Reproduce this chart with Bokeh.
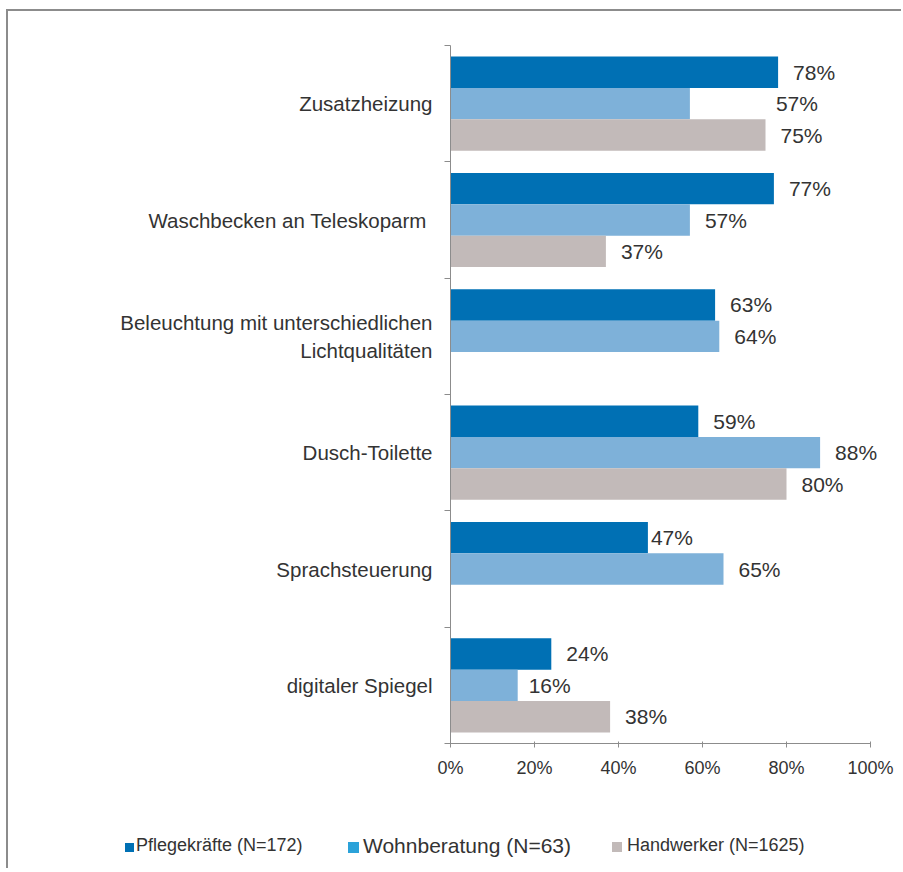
from bokeh.plotting import figure
from bokeh.layouts import column
from bokeh.models import (ColumnDataSource, Range1d, FixedTicker, LabelSet,
                          PrintfTickFormatter, Div)
from bokeh.core.properties import value
from bokeh.embed import file_html
from bokeh.resources import INLINE

# ---------------- data ----------------
categories = [
    "Zusatzheizung",
    "Waschbecken an Teleskoparm ",
    "Beleuchtung mit unterschiedlichen\nLichtqualitäten",
    "Dusch-Toilette",
    "Sprachsteuerung",
    "digitaler Spiegel",
]
series_names = ["Pflegekräfte (N=172)", "Wohnberatung (N=63)", "Handwerker (N=1625)"]
pflegekraefte = [78, 77, 63, 59, 47, 24]
wohnberatung = [57, 57, 64, 88, 65, 16]
handwerker = [75, 37, None, 80, None, 38]
x_ticks = [0, 20, 40, 60, 80, 100]

# ---------------- style / layout ----------------
bar_colors = ["#0070b4", "#7eb1d9", "#c2bab9"]
legend_colors = ["#0070b4", "#2ba2d9", "#c2bab9"]
legend_font_px = [18, 21, 18]
legend_square_px = [9, 11, 10]
legend_square_left = [117, 340, 604]
legend_text_left = [128, 355, 619]
legend_text_cy = 43
legend_square_cy = 45
FONT = "Liberation Sans"
TXT = "#333333"
AXC = "#8c8c8c"
BAR_H = 0.27
default_dx = 15
label_nudge = {(0, 1): 86, (4, 0): 3, (5, 1): 11}

W = 893
MB_LEFT, MB_RIGHT = 442, 5
PX_PER_UNIT = 4.2
x_end = (W - MB_LEFT - MB_RIGHT) / PX_PER_UNIT

p = figure(width=W, height=791, x_range=Range1d(0, x_end), y_range=Range1d(len(categories), 0),
           output_backend="svg", toolbar_location=None,
           min_border_left=MB_LEFT, min_border_right=MB_RIGHT, min_border_top=34,
           min_border_bottom=59)
p.outline_line_color = None
p.xgrid.grid_line_color = None
p.ygrid.grid_line_color = None

all_series = [pflegekraefte, wohnberatung, handwerker]
for k, vals in enumerate(all_series):
    ys, vs, labels, dxs = [], [], [], []
    for i, v in enumerate(vals):
        if v is None:
            continue
        ys.append(i + 0.5 + (k - 1) * BAR_H)
        vs.append(v)
        labels.append(f"{v}%")
        dxs.append(label_nudge.get((i, k), default_dx))
    src = ColumnDataSource(dict(y=ys, v=vs, label=labels, dx=dxs))
    p.hbar(y="y", left=0, right="v", height=BAR_H, source=src,
           fill_color=bar_colors[k], line_color=None)
    p.add_layout(LabelSet(x="v", y="y", text="label", x_offset="dx", source=src,
                          text_baseline="middle", text_align="left",
                          text_font=value(FONT), text_font_size="21px", text_color=TXT))

# y axis: labels at band centres, ticks at band boundaries
yax = p.yaxis[0]
yax.ticker = FixedTicker(ticks=[i + 0.5 for i in range(len(categories))],
                         minor_ticks=list(range(len(categories) + 1)))
yax.major_label_overrides = {i + 0.5: c for i, c in enumerate(categories)}
yax.major_tick_line_color = None
yax.major_tick_out = 0
yax.major_tick_in = 0
yax.minor_tick_line_color = AXC
yax.minor_tick_out = 6
yax.minor_tick_in = 0
yax.axis_line_color = AXC
yax.major_label_standoff = 12
yax.major_label_text_font = FONT
yax.major_label_text_font_size = "20.5px"
yax.major_label_text_color = TXT

xax = p.xaxis[0]
xax.bounds = (0, 100)
xax.ticker = FixedTicker(ticks=x_ticks)
xax.formatter = PrintfTickFormatter(format="%d%%")
xax.minor_tick_line_color = None
xax.major_tick_line_color = AXC
xax.major_tick_out = 4
xax.major_tick_in = 2
xax.axis_line_color = AXC
xax.major_label_standoff = 10
xax.major_label_text_font = FONT
xax.major_label_text_font_size = "18px"
xax.major_label_text_color = TXT

# ---------------- legend strip (HTML) ----------------
parts = []
for k, name in enumerate(series_names):
    s = legend_square_px[k]
    lh = round(legend_font_px[k] * 1.2)
    parts.append(
        f'<span style="position:absolute;left:{legend_square_left[k]}px;'
        f'top:{legend_square_cy - s / 2}px;width:{s}px;height:{s}px;'
        f'background:{legend_colors[k]};"></span>'
    )
    parts.append(
        f'<span style="position:absolute;left:{legend_text_left[k]}px;'
        f'top:{legend_text_cy - lh / 2}px;line-height:{lh}px;white-space:nowrap;'
        f'font-family:\'{FONT}\';font-size:{legend_font_px[k]}px;color:{TXT};">{name}</span>'
    )
legend_html = ('<div style="position:relative;width:%dpx;height:66px;margin:0;padding:0;">%s</div>'
               % (W, "".join(parts)))
legend_div = Div(text=legend_html, width=W, height=66, styles={"margin": "0", "padding": "0"})

layout = column(p, legend_div, spacing=0)
layout.styles = {"border-top": "2px solid #8c8c8c", "border-left": "2px solid #8c8c8c",
                 "margin-left": "6px", "margin-top": "9px"}

open("out.html", "w").write(file_html(layout, INLINE))
